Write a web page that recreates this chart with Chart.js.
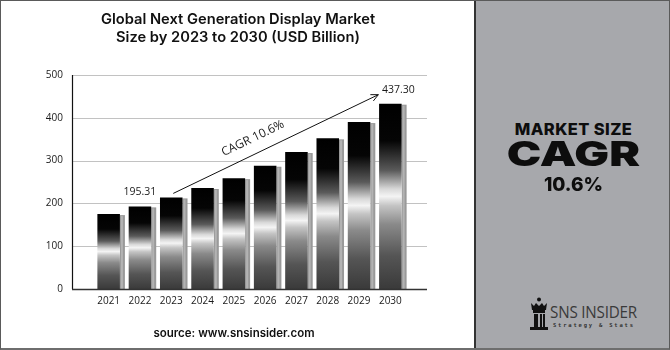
<!DOCTYPE html>
<html>
<head>
<meta charset="utf-8">
<script src="https://cdn.jsdelivr.net/npm/chart.js@4.4.1/dist/chart.umd.min.js"></script>
<style>
  body { margin: 0; background: #fff; }
  #frame { position: absolute; left: 0; top: 0; width: 670px; height: 350px; box-sizing: border-box;
           border: 1px solid #5a5a5a; border-bottom: 2px solid #6e6e6e; overflow: hidden; }
  #chartBox { position: absolute; left: 0; top: 0; width: 470px; height: 350px; }
  #title { position: absolute; left: 0; width: 474px; top: 9px; text-align: center;
           font-family: Inter, sans-serif; font-weight: 600; font-size: 14.7px; line-height: 18px; color: #111; }
  #source { position: absolute; left: 0; width: 466px; top: 325px; text-align: center;
            font-family: Inter, sans-serif; font-weight: 600; font-size: 11.5px; color: #111; }
  #panel { position: absolute; left: 473px; top: 0; width: 197px; height: 350px; box-sizing: border-box;
           background: #a7a8ac; border-left: 2px solid #333; }
  .big { position: absolute; left: 0; width: 195px; text-align: center; font-family: Inter, sans-serif; color: #0d0d0d; }
  #ms { top: 118px; font-weight: 800; font-size: 16.5px; letter-spacing: 0.4px; }
  #cagr { top: 133px; font-weight: 900; font-size: 34px; line-height: 40px; transform: scaleX(1.36); }
  #pct { top: 172px; font-weight: 800; font-size: 19px; }
  #logo { position: absolute; left: 52px; top: 296px; }
  #logoText { position: absolute; left: 74px; top: 299px; font-family: "Open Sans", sans-serif; font-size: 16.5px;
              color: #3a3a3a; letter-spacing: -0.2px; transform: scaleX(0.92); transform-origin: left; }
  #logoSub { position: absolute; left: 77px; top: 321px; font-family: "DejaVu Sans Mono", monospace; font-size: 5.5px;
             font-weight: bold; color: #333; letter-spacing: 1.8px; }
</style>
</head>
<body>
<div id="frame">
  <div id="chartBox"><canvas id="myChart" width="470" height="350"></canvas></div>
  <div id="title">Global Next Generation Display Market<br>Size by 2023 to 2030 (USD Billion)</div>
  <div id="source">source: www.snsinsider.com</div>
  <div id="panel">
    <div class="big" id="ms">MARKET SIZE</div>
    <div class="big" id="cagr">CAGR</div>
    <div class="big" id="pct">10.6%</div>
    <svg id="logo" width="22" height="36" viewBox="0 0 22 36">
      <circle cx="11" cy="2.5" r="2" fill="#111"/>
      <path d="M3 6 L6 9 L8 6 L11 9 L14 6 L16 9 L19 6 L18 13 L4 13 Z" fill="#111"/>
      <rect x="5" y="13" width="12" height="3" fill="#111"/>
      <rect x="6" y="17" width="4" height="13" fill="#111"/>
      <rect x="12" y="17" width="2" height="13" fill="#111"/>
      <rect x="15" y="17" width="2" height="13" fill="#111"/>
      <rect x="2" y="30" width="18" height="3" fill="#111"/>
    </svg>
    <div id="logoText">SNS INSIDER</div>
    <div id="logoSub">Strategy &amp; Stats</div>
  </div>
</div>
<script>
// chart data
const years = ['2021', '2022', '2023', '2024', '2025', '2026', '2027', '2028', '2029', '2030'];
const marketSize = [175, 193, 214, 236, 259, 288, 320, 352, 390, 433];
const yTicks = [0, 100, 200, 300, 400, 500];
const startLabel = '195.31';
const endLabel = '437.30';
const cagrText = 'CAGR 10.6%';

// per-bar metallic gradient
function barGradient(context) {
    const chart = context.chart;
    const area = chart.chartArea;
    if (!area || context.type !== 'data') return '#222';
    const y = chart.scales.y;
    const top = y.getPixelForValue(context.raw);
    const base = y.getPixelForValue(0);
    const g = chart.ctx.createLinearGradient(0, top, 0, base);
    g.addColorStop(0, '#000');
    g.addColorStop(0.2, '#050505');
    g.addColorStop(0.36, '#5a5a5a');
    g.addColorStop(0.46, '#d8d8d8');
    g.addColorStop(0.5, '#f4f4f4');
    g.addColorStop(0.55, '#c4c4c4');
    g.addColorStop(0.65, '#8a8a8a');
    g.addColorStop(0.82, '#555');
    g.addColorStop(1, '#3a3a3a');
    return g;
}

// grid, axes and bar shadows drawn under the bars
const backdrop = {
    id: 'backdrop',
    beforeDatasetsDraw(chart) {
        const { ctx, chartArea, scales } = chart;
        const left = chartArea.left - 21;
        const right = chartArea.right + 21;
        ctx.save();
        ctx.strokeStyle = '#c2c2c2';
        ctx.lineWidth = 1;
        yTicks.forEach(v => {
            if (v === 0) return;
            const py = Math.round(scales.y.getPixelForValue(v)) + 0.5;
            ctx.beginPath(); ctx.moveTo(left, py); ctx.lineTo(right, py); ctx.stroke();
        });
        chart.getDatasetMeta(0).data.forEach(bar => {
            const half = bar.width / 2;
            ctx.fillStyle = '#999';
            ctx.fillRect(bar.x + half, bar.y + 1, 5, bar.base - bar.y - 1);
            ctx.fillStyle = '#b3b3b3';
            ctx.fillRect(bar.x + half + 1, bar.y + 2, 2, bar.base - bar.y - 2);
        });
        ctx.restore();
    },
    afterDatasetsDraw(chart) {
        const { ctx, chartArea, scales } = chart;
        const left = chartArea.left - 21;
        const right = chartArea.right + 21;
        const bottom = scales.y.getPixelForValue(0);
        ctx.save();
        ctx.strokeStyle = '#111';
        ctx.lineWidth = 1.2;
        ctx.beginPath();
        ctx.moveTo(left + 0.5, scales.y.getPixelForValue(500));
        ctx.lineTo(left + 0.5, bottom);
        ctx.stroke();
        ctx.strokeStyle = '#333';
        ctx.lineWidth = 1.5;
        ctx.beginPath(); ctx.moveTo(left, bottom + 0.5); ctx.lineTo(right, bottom + 0.5); ctx.stroke();

        // value labels
        const x = scales.x, y = scales.y;
        ctx.fillStyle = '#1a1a1a';
        ctx.font = '10.5px "Open Sans", sans-serif';
        ctx.textAlign = 'center';
        ctx.textBaseline = 'middle';
        ctx.fillText(startLabel, x.getPixelForValue(1), y.getPixelForValue(marketSize[1]) - 14);
        ctx.fillText(endLabel, x.getPixelForValue(9) + 8, y.getPixelForValue(marketSize[9]) - 14);

        // CAGR arrow
        const x0 = x.getPixelForValue(2) + 2, y0 = y.getPixelForValue(marketSize[2]) - 4;
        const x1 = x.getPixelForValue(9) - 12, y1 = y.getPixelForValue(marketSize[9]) - 9;
        const ang = Math.atan2(y1 - y0, x1 - x0);
        ctx.strokeStyle = '#111';
        ctx.lineWidth = 1;
        ctx.beginPath(); ctx.moveTo(x0, y0); ctx.lineTo(x1, y1); ctx.stroke();
        ctx.beginPath();
        ctx.moveTo(x1 - 8 * Math.cos(ang - 0.45), y1 - 8 * Math.sin(ang - 0.45));
        ctx.lineTo(x1, y1);
        ctx.lineTo(x1 - 8 * Math.cos(ang + 0.45), y1 - 8 * Math.sin(ang + 0.45));
        ctx.stroke();

        const t = 0.42;
        const tx = x0 + (x1 - x0) * t + 15 * Math.sin(ang);
        const ty = y0 + (y1 - y0) * t - 15 * Math.cos(ang);
        ctx.translate(tx, ty);
        ctx.rotate(ang);
        ctx.font = '12px "Open Sans", sans-serif';
        ctx.fillText(cagrText, 0, 0);
        ctx.restore();
    }
};

const ctx = document.getElementById('myChart').getContext('2d');
const myChart = new Chart(ctx, {
    type: 'bar',
    data: {
        labels: years,
        datasets: [{
            label: 'Market Size',
            data: marketSize,
            backgroundColor: barGradient,
            borderWidth: 0,
            barPercentage: 0.72,
            categoryPercentage: 1
        }]
    },
    options: {
        responsive: false,
        animation: false,
        layout: { padding: { top: 74, right: 65, bottom: 38, left: 0 } },
        plugins: { legend: { display: false }, tooltip: { enabled: false } },
        scales: {
            x: {
                grid: { display: false, drawTicks: false },
                border: { display: false },
                ticks: { color: '#1a1a1a', padding: 6, font: { family: 'Open Sans', size: 10 } },
                afterFit(scale) { scale.height = 24; }
            },
            y: {
                min: 0,
                max: 500,
                afterBuildTicks(scale) { scale.ticks = yTicks.map(v => ({ value: v })); },
                grid: { display: false, drawTicks: false },
                border: { display: false },
                ticks: { color: '#1a1a1a', padding: 30, font: { family: 'Open Sans', size: 10 } },
                afterFit(scale) { scale.width = 92; }
            }
        }
    },
    plugins: [backdrop]
});
</script>
</body>
</html>
